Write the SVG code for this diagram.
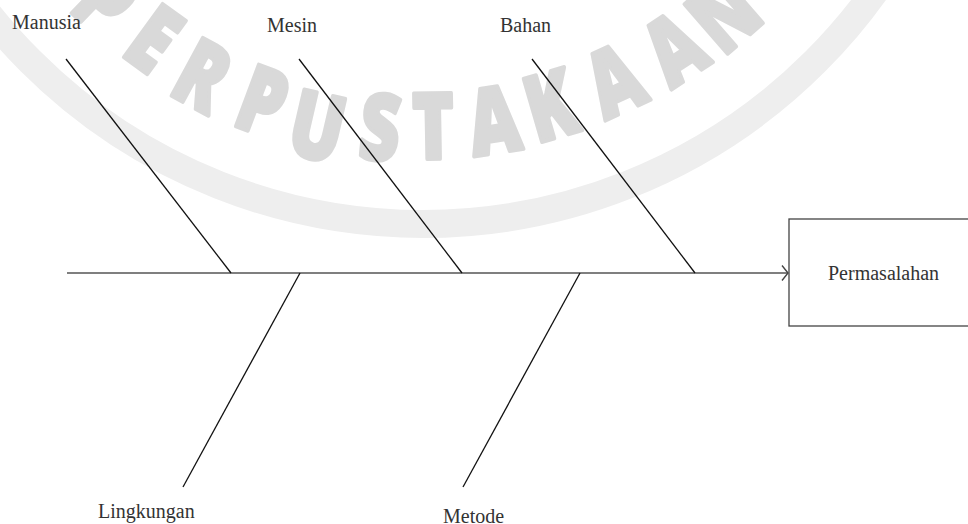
<svg xmlns="http://www.w3.org/2000/svg" width="968" height="524" viewBox="0 0 968 524">
<style>
.wm{font-family:"Open Sans","Liberation Sans",sans-serif;font-weight:900;font-size:92px;fill:#d9d9d9;stroke:#d9d9d9;stroke-width:4;stroke-linejoin:round;text-anchor:middle}
.lbl{font-family:"Liberation Serif","Times New Roman",serif;font-size:20px;fill:#333}
.bone{stroke:#111;stroke-width:1.3;fill:none}
.spine{stroke:#555;stroke-width:1.6;fill:none}
</style>
<defs>
<marker id="arr" markerWidth="10" markerHeight="18" refX="7" refY="8" orient="auto" markerUnits="userSpaceOnUse">
<path d="M1,0.5 L7,8 L1,15.5" fill="none" stroke="#444" stroke-width="1.4"/>
</marker>
</defs>
<rect width="968" height="524" fill="#fff"/>
<g id="watermark">
<circle cx="423" cy="-331" r="555" fill="none" stroke="#eeeeee" stroke-width="28"/>
<g transform="translate(105,2) rotate(44)"><text class="wm" y="31" transform="scale(0.76,1)">P</text></g>
<g transform="translate(153,40) rotate(36)"><text class="wm" y="31" transform="scale(0.76,1)">E</text></g>
<g transform="translate(202,77) rotate(28.4)"><text class="wm" y="31" transform="scale(0.76,1)">R</text></g>
<g transform="translate(262,103) rotate(20.4)"><text class="wm" y="31" transform="scale(0.76,1)">P</text></g>
<g transform="translate(317,128) rotate(13)"><text class="wm" y="31" transform="scale(0.76,1)">U</text></g>
<g transform="translate(380,129) rotate(5.4)"><text class="wm" y="31" transform="scale(0.76,1)">S</text></g>
<g transform="translate(433,128) rotate(-1)"><text class="wm" y="31" transform="scale(0.76,1)">T</text></g>
<g transform="translate(494,122) rotate(-8.8)"><text class="wm" y="31" transform="scale(0.76,1)">A</text></g>
<g transform="translate(551,107) rotate(-16.2)"><text class="wm" y="31" transform="scale(0.76,1)">K</text></g>
<g transform="translate(615,82) rotate(-24.9)"><text class="wm" y="31" transform="scale(0.76,1)">A</text></g>
<g transform="translate(675,50) rotate(-33.5)"><text class="wm" y="31" transform="scale(0.76,1)">A</text></g>
<g transform="translate(725,15) rotate(-41)"><text class="wm" y="31" transform="scale(0.76,1)">N</text></g>
</g>
<g id="connectors">
<line class="spine" x1="67" y1="273" x2="788" y2="273" marker-end="url(#arr)"/>
<line class="bone" x1="66" y1="59" x2="231" y2="273"/>
<line class="bone" x1="299" y1="59" x2="462" y2="273"/>
<line class="bone" x1="532" y1="59" x2="695" y2="273"/>
<line class="bone" x1="300" y1="273" x2="183" y2="487"/>
<line class="bone" x1="580" y1="273" x2="463" y2="487"/>
</g>
<g id="manusia"><text class="lbl" x="12" y="29">Manusia</text></g>
<g id="mesin"><text class="lbl" x="267" y="32">Mesin</text></g>
<g id="bahan"><text class="lbl" x="500" y="32">Bahan</text></g>
<g id="lingkungan"><text class="lbl" x="98" y="518">Lingkungan</text></g>
<g id="metode"><text class="lbl" x="443" y="523">Metode</text></g>
<g id="permasalahan">
<rect x="789" y="219" width="200" height="107" fill="#fff" stroke="#444" stroke-width="1.3"/>
<text class="lbl" x="828" y="280">Permasalahan</text>
</g>
</svg>
